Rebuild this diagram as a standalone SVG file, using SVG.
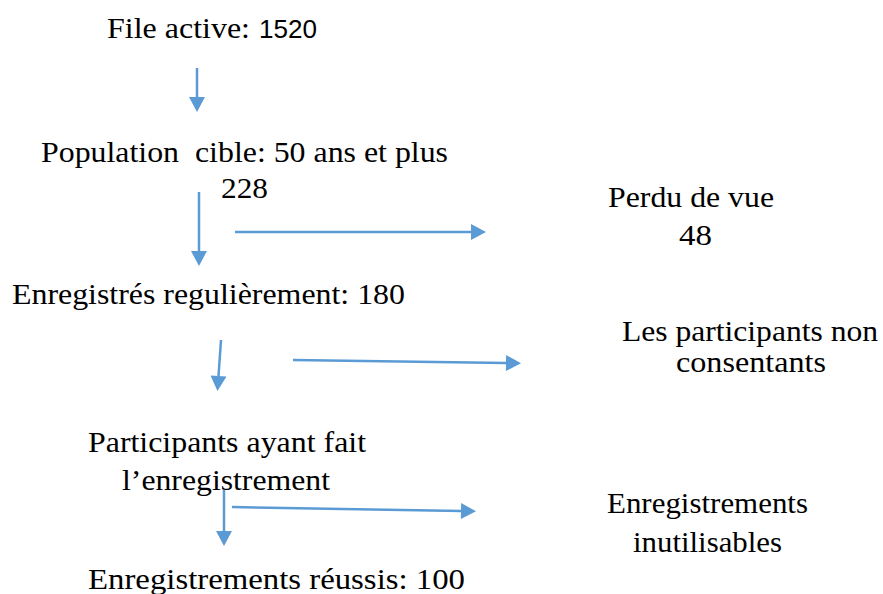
<svg xmlns="http://www.w3.org/2000/svg" width="883" height="594" viewBox="0 0 883 594">
<style>
  .t { font-family: 'Liberation Serif', 'Times New Roman', serif; font-size: 29px; fill: #000; white-space: pre; }
  .s { font-family: 'Liberation Sans', Arial, sans-serif; font-size: 25px; fill: #000; }
  .c { fill: none; stroke: #5B9BD5; stroke-width: 2.5; marker-end: url(#ah); }
</style>
<defs>
  <marker id="ah" markerUnits="userSpaceOnUse" markerWidth="16" markerHeight="16" refX="0" refY="8" orient="auto" viewBox="0 0 15 16">
    <path d="M0,0 L15,8 L0,16 z" fill="#5B9BD5"/>
  </marker>
</defs>
<rect width="883" height="594" fill="#fff"/>
<g id="n-file-active">
  <text class="t" x="107" y="38" textLength="143" lengthAdjust="spacingAndGlyphs">File active:</text>
  <text class="s" x="259" y="38" textLength="58" lengthAdjust="spacingAndGlyphs">1520</text>
</g>
<g id="n-population">
  <text class="t" x="41" y="162" textLength="407" lengthAdjust="spacingAndGlyphs">Population  cible: 50 ans et plus</text>
  <text class="t" x="221" y="198" textLength="47" lengthAdjust="spacingAndGlyphs">228</text>
</g>
<g id="n-perdu">
  <text class="t" x="608" y="207" textLength="166" lengthAdjust="spacingAndGlyphs">Perdu de vue</text>
  <text class="t" x="679" y="245" textLength="33" lengthAdjust="spacingAndGlyphs">48</text>
</g>
<g id="n-enregistres">
  <text class="t" x="12" y="304" textLength="393" lengthAdjust="spacingAndGlyphs">Enregistrés regulièrement: 180</text>
</g>
<g id="n-non-consentants">
  <text class="t" x="622" y="341" textLength="256" lengthAdjust="spacingAndGlyphs">Les participants non</text>
  <text class="t" x="676" y="372" textLength="150" lengthAdjust="spacingAndGlyphs">consentants</text>
</g>
<g id="n-participants">
  <text class="t" x="88" y="452" textLength="278" lengthAdjust="spacingAndGlyphs">Participants ayant fait</text>
  <text class="t" x="122" y="490" textLength="208" lengthAdjust="spacingAndGlyphs">l’enregistrement</text>
</g>
<g id="n-inutilisables">
  <text class="t" x="607" y="513" textLength="201" lengthAdjust="spacingAndGlyphs">Enregistrements</text>
  <text class="t" x="633" y="552" textLength="149" lengthAdjust="spacingAndGlyphs">inutilisables</text>
</g>
<g id="n-reussis">
  <text class="t" x="88" y="589" textLength="377" lengthAdjust="spacingAndGlyphs">Enregistrements réussis: 100</text>
</g>
<g id="connectors">
  <path class="c" d="M197,68 L197,97"/>
  <path class="c" d="M199,192 L199,251"/>
  <path class="c" d="M235,232 L471,232"/>
  <path class="c" d="M221,340 L218.5,376"/>
  <path class="c" d="M293,360 L506,363"/>
  <path class="c" d="M224,490 L224,531"/>
  <path class="c" d="M232,507 L461,511"/>
</g>
</svg>
